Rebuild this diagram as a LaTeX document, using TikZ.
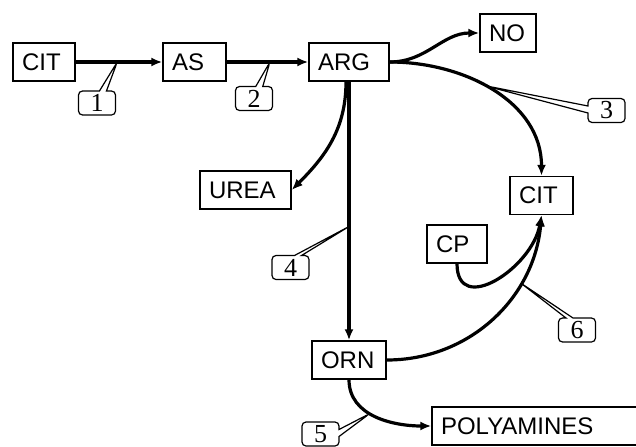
\documentclass[tikz,border=0pt]{standalone}
\usepackage{fontspec}
\setmainfont{Liberation Serif}
\setsansfont{Liberation Sans}
\usetikzlibrary{arrows.meta,shapes.callouts}

\tikzset{
  metab/.style={draw, line width=0.7pt, inner xsep=4.5pt, inner ysep=0pt,
    minimum height=19pt, align=left, font=\sffamily\fontsize{12}{13}\selectfont},
  flux/.style={-{Latex[length=5.5pt,width=4.5pt]}, line width=1.6pt},
  enzyme/.style={rectangle callout, draw, rounded corners=2pt, line width=0.6pt,
    minimum width=18.5pt, minimum height=12pt, inner sep=0pt,
    callout pointer width=3.5pt, font=\fontsize{13}{13}\selectfont}
}

\begin{document}
\begin{tikzpicture}[x=0.5pt,y=0.5pt]
% Fix page size
\useasboundingbox (0,0) rectangle (636,446);

% Metabolites
\node[metab, text width=22pt] (cit1) at (44,384) {CIT};
\node[metab, text width=22.5pt] (as) at (194.5,384) {AS};
\node[metab, text width=31pt] (arg) at (349,384) {ARG};
\node[metab, text width=19pt] (no) at (508,413) {NO};
\node[metab, text width=22.5pt] (cit2) at (541.5,250.5) {CIT};
\node[metab, text width=21pt] (cp) at (457,202) {CP};
\node[metab, text width=36.5pt] (urea) at (245.5,256) {UREA};
\node[metab, text width=28pt] (orn) at (349,86) {ORN};
\node[metab, text width=96pt] (poly) at (537,20) {POLYAMINES};

% Reactions
\draw[flux] (cit1) -- coordinate[pos=0.48] (e1) (as);
\draw[flux] (as) -- coordinate[pos=0.53] (e2) (arg);
\draw[flux] (arg.east) to[out=0,in=180] (no.west);
\draw[flux] (arg.east) to[out=0,in=90] coordinate[pos=0.45] (e3) (cit2.north);
\draw[flux] ([xshift=-1.5pt]arg.south) to[out=-90,in=45] (urea.east);
\draw[flux] (arg) -- coordinate[pos=0.56] (e4) (orn);
\draw[flux] (orn.east) to[out=0,in=-95] coordinate[pos=0.7] (e6) (cit2.south);
\draw[flux] (cp.south) to[out=-90,in=-100,looseness=1.4] (cit2.south);
\draw[flux] (orn.south) to[out=-90,in=180] coordinate[pos=0.43] (e5) (poly.west);

% Enzymes
\node[enzyme, callout absolute pointer={(e1)}] (n1) at (97,343) {1};
\node[enzyme, callout absolute pointer={(e2)}] (n2) at (254,347.5) {2};
\node[enzyme, callout absolute pointer={(e3)}] (n3) at (606.5,335.5) {3};
\node[enzyme, callout absolute pointer={(e4)}] (n4) at (290.5,178.5) {4};
\node[enzyme, callout absolute pointer={(e5)}] (n5) at (320.5,12) {5};
\node[enzyme, callout absolute pointer={(e6)}] (n6) at (577,116) {6};
\end{tikzpicture}
\end{document}
